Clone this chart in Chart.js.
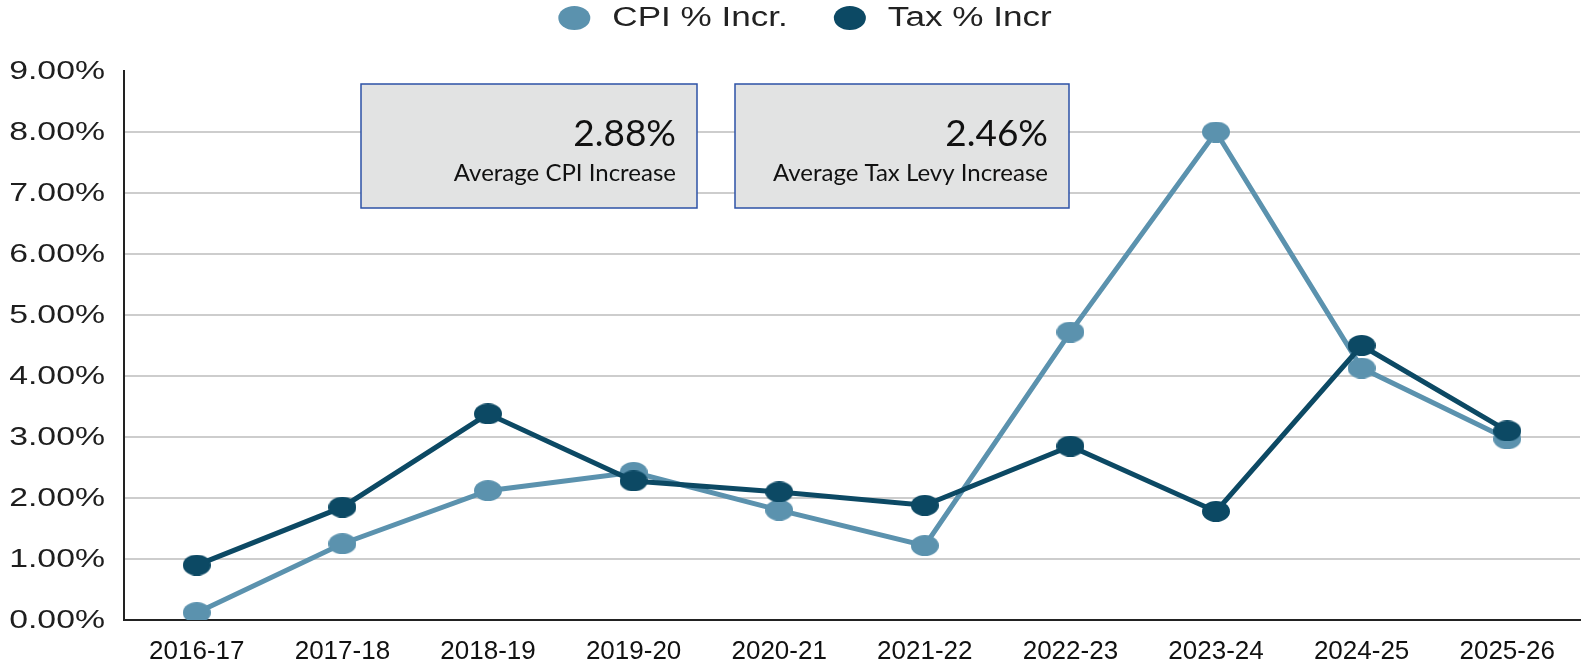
<!DOCTYPE html>
<html>
<head>
<meta charset="utf-8">
<script src="https://cdn.jsdelivr.net/npm/chart.js@4.4.1/dist/chart.umd.min.js"></script>
<style>
html, body { margin: 0; padding: 0; background: #fff; }
#wrap { width: 1595px; height: 660px; position: relative; }
</style>
</head>
<body>
<div id="wrap"><canvas id="taxChart"></canvas></div>
<script>
// fiscal years on the x axis
var years = ['2016-17', '2017-18', '2018-19', '2019-20', '2020-21', '2021-22', '2022-23', '2023-24', '2024-25', '2025-26'];
// yearly % increases
var cpiIncrease = [0.12, 1.25, 2.12, 2.42, 1.80, 1.22, 4.72, 8.00, 4.13, 2.97];
var taxIncrease = [0.90, 1.85, 3.38, 2.28, 2.10, 1.88, 2.85, 1.78, 4.50, 3.10];
var yTicks = [0, 1, 2, 3, 4, 5, 6, 7, 8, 9];
var seriesNames = ['CPI % Incr.', 'Tax % Incr'];
var avgValues = ['2.88%', '2.46%'];
var avgLabels = ['Average CPI Increase', 'Average Tax Levy Increase'];

var cpiColor = '#5b92ae';
var taxColor = '#0c4964';
var sansFont = '"Liberation Sans", Arial, sans-serif';
var textStretch = 1.3; // the source picture is stretched sideways

// oval marker, points in the source are wider than tall
function dot(color, w, h) {
    var c = document.createElement('canvas');
    c.width = w;
    c.height = h;
    var g = c.getContext('2d');
    g.fillStyle = color;
    g.beginPath();
    g.ellipse(w / 2, h / 2, w / 2, h / 2, 0, 0, Math.PI * 2);
    g.fill();
    return c;
}

var extras = {
    id: 'extras',
    afterDraw: function(chart) {
        var ctx = chart.ctx;
        var yScale = chart.scales.y;

        // y tick labels
        ctx.save();
        ctx.fillStyle = '#1e1e1e';
        ctx.font = '26px ' + sansFont;
        ctx.textAlign = 'right';
        ctx.textBaseline = 'middle';
        ctx.scale(textStretch, 1);
        yTicks.forEach(function(v) {
            ctx.fillText(v.toFixed(2) + '%', 105 / textStretch, yScale.getPixelForValue(v) + 1);
        });
        ctx.restore();

        // legend
        ctx.save();
        ctx.font = '27px ' + sansFont;
        ctx.textBaseline = 'middle';
        var markW = 32, markH = 24, gap = 22, between = 46, legY = 18;
        var items = chart.data.datasets.map(function(ds) {
            return { text: ds.label, color: ds.borderColor, w: ctx.measureText(ds.label).width * textStretch };
        });
        var total = between;
        items.forEach(function(it) { total += markW + gap + it.w; });
        var x = 805 - total / 2;
        items.forEach(function(it) {
            ctx.fillStyle = it.color;
            ctx.beginPath();
            ctx.ellipse(x + markW / 2, legY, markW / 2, markH / 2, 0, 0, Math.PI * 2);
            ctx.fill();
            x += markW + gap;
            ctx.fillStyle = '#222';
            ctx.save();
            ctx.scale(textStretch, 1);
            ctx.fillText(it.text, x / textStretch, legY + 1);
            ctx.restore();
            x += it.w + between;
        });
        ctx.restore();

        // average boxes
        var boxes = [{ l: 361, t: 84, r: 697, b: 208 }, { l: 735, t: 84, r: 1069, b: 208 }];
        ctx.save();
        boxes.forEach(function(b, i) {
            ctx.fillStyle = '#e2e3e3';
            ctx.fillRect(b.l, b.t, b.r - b.l, b.b - b.t);
            ctx.strokeStyle = '#2d52a6';
            ctx.lineWidth = 1.5;
            ctx.strokeRect(b.l, b.t, b.r - b.l, b.b - b.t);
            ctx.fillStyle = '#111';
            ctx.textAlign = 'right';
            ctx.textBaseline = 'alphabetic';
            ctx.font = '37px Lato, "Open Sans", sans-serif';
            ctx.fillText(avgValues[i], b.r - 21, 146);
            ctx.font = '24px Lato, "Open Sans", sans-serif';
            ctx.fillText(avgLabels[i], b.r - 21, 181);
        });
        ctx.restore();
    }
};

new Chart(document.getElementById('taxChart'), {
    type: 'line',
    data: {
        labels: years,
        datasets: [{
            label: seriesNames[0],
            data: cpiIncrease,
            borderColor: cpiColor,
            backgroundColor: cpiColor,
            borderWidth: 5,
            pointStyle: dot(cpiColor, 28, 21),
            pointRadius: 10,
            tension: 0,
            order: 1
        }, {
            label: seriesNames[1],
            data: taxIncrease,
            borderColor: taxColor,
            backgroundColor: taxColor,
            borderWidth: 5,
            pointStyle: dot(taxColor, 28, 21),
            pointRadius: 10,
            tension: 0,
            order: 0
        }]
    },
    options: {
        responsive: true,
        maintainAspectRatio: false,
        animation: false,
        layout: { padding: { top: 71, right: 4, left: 0, bottom: 0 } },
        plugins: {
            legend: { display: false },
            tooltip: { enabled: false }
        },
        scales: {
            x: {
                offset: true,
                grid: { display: false },
                border: { display: true, color: '#222', width: 2 },
                ticks: {
                    color: '#111',
                    font: { family: sansFont, size: 26 },
                    padding: 8,
                    maxRotation: 0,
                    autoSkip: false
                },
                afterFit: function(s) { s.height = 40; }
            },
            y: {
                min: 0,
                max: 9,
                ticks: { display: false, stepSize: 1 },
                grid: {
                    color: function(c) {
                        return (c.tick.value === 0 || c.tick.value === 9) ? 'rgba(0,0,0,0)' : '#cdcdcd';
                    },
                    lineWidth: 2,
                    drawTicks: false
                },
                border: { color: '#222', width: 2 },
                afterFit: function(s) { s.width = 124; }
            }
        }
    },
    plugins: [extras]
});
</script>
</body>
</html>
